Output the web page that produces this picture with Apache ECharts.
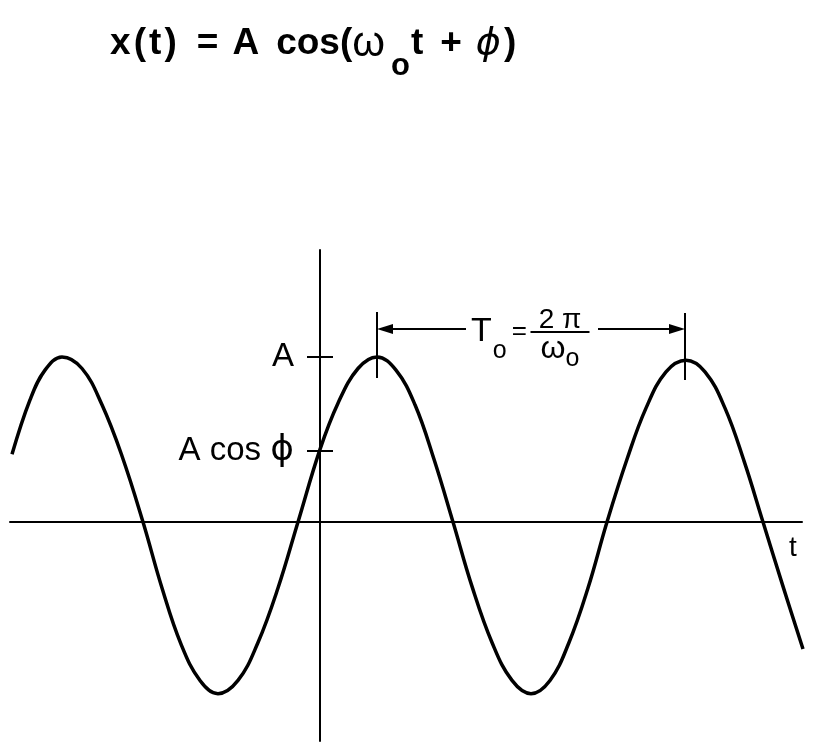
<!DOCTYPE html>
<html><head><meta charset="utf-8">
<script src="https://cdn.jsdelivr.net/npm/echarts@6/dist/echarts.min.js"></script>
<style>html,body{margin:0;padding:0;background:#fff}#c{width:832px;height:746px}</style>
</head><body><div id="c"></div>
<script>
// time axis (arbitrary units, origin at the vertical axis)
const tValues = [-308,-290,-275,-258,-238,-218,-198,-177,-158,-139,-120,-102,-82,-62,-42,-22,0,18,38,57,76,95,114,133,152,172,192,211,230,249,268,287,307,326,346,366,385,405,424,443,463,483];
// x(t) in units of A
const xValues = [0.41,0.74,0.92,1.00,0.93,0.71,0.40,0,-0.40,-0.74,-0.96,-1.04,-0.96,-0.73,-0.40,0,0.44,0.72,0.93,1.00,0.92,0.71,0.38,0,-0.39,-0.73,-0.96,-1.04,-0.96,-0.73,-0.40,0,0.38,0.69,0.91,0.98,0.91,0.69,0.37,0,-0.39,-0.77];
const yTickValues = [1, 0.43];
const yTickLabels = ['A', 'A cos \u03D5'];
const peakTimes = [57, 365];

const F = 'Liberation Sans, Arial, sans-serif';
const chart = echarts.init(document.getElementById('c'), null, {renderer: 'canvas'});

const B = {fontFamily: F, fontWeight: 'bold', fontSize: 37, lineHeight: 40, color: '#000'};
const pad = p => Object.assign({}, B, {padding: [0, 0, 0, p]});
const toRich = s => s.split('\u03D5').map(part => part ? '{a|' + part + '}' : '').join('{f|\u03D5}');
const tickLabelPoints = yTickValues.map((v, i) => ({
  coord: [0, v],
  label: {formatter: toRich(yTickLabels[i]), align: 'right', verticalAlign: 'middle', offset: [-26, 0],
          rich: {
            a: {fontFamily: F, fontSize: 33, lineHeight: 38, color: '#000'},
            f: {fontFamily: 'DejaVu Sans', fontWeight: 'normal', fontSize: 36, lineHeight: 38, color: '#000'}
          }}
}));

const option = {
  backgroundColor: '#fff',
  animation: false,
  title: {
    text: '{b|x\u200A(\u200At\u200A)}{b1|=}{b2|A}{b3|cos(}{w|\u03C9}{s|o}{b4|t}{b5|+}{p|\u03D5}{b6|)}',
    left: 110, top: 24, padding: 0,
    textStyle: { rich: {
      b: B, b1: pad(20), b2: pad(14), b3: pad(17), b4: pad(1), b5: pad(17), b6: pad(3),
      w: {fontFamily: F, fontWeight: 'normal', fontSize: 42, lineHeight: 40, color: '#000'},
      s: {fontFamily: F, fontWeight: 'bold', fontSize: 31, lineHeight: 36, padding: [44, 0, 0, 6], color: '#000'},
      p: {fontFamily: 'DejaVu Sans', fontStyle: 'italic', fontWeight: 'normal', fontSize: 38, lineHeight: 40, padding: [0, 0, 0, 14], color: '#000'}
    }}
  },
  grid: {left: 10, right: 30, top: 250, bottom: 5, containLabel: false, outerBoundsMode: 'none'},
  xAxis: {
    type: 'value', min: -310, max: 482,
    axisLine: {show: true, onZero: true, onZeroAxisIndex: 0, lineStyle: {color: '#000', width: 2}},
    axisTick: {show: false}, axisLabel: {show: false}, splitLine: {show: false},
    name: 't', nameLocation: 'end', nameGap: -9,
    nameTextStyle: {fontSize: 28, fontFamily: F, color: '#000', align: 'center', verticalAlign: 'top', padding: [12, 0, 0, 0]}
  },
  yAxis: [{
    type: 'value', min: -1.327, max: 1.648, position: 'left',
    axisLine: {show: true, onZero: true, onZeroAxisIndex: 0, lineStyle: {color: '#000', width: 2}},
    axisTick: {show: true, inside: false, length: 13, customValues: yTickValues, lineStyle: {color: '#000', width: 2}},
    axisLabel: {show: false},
    splitLine: {show: false}
  }, {
    type: 'value', min: -1.327, max: 1.648, position: 'left',
    axisLine: {show: false, onZero: true, onZeroAxisIndex: 0},
    axisTick: {show: true, inside: true, length: 13, customValues: yTickValues, lineStyle: {color: '#000', width: 2}},
    axisLabel: {show: false}, splitLine: {show: false}
  }],
  series: [{
    type: 'line',
    data: tValues.map((t, i) => [t, xValues[i]]),
    showSymbol: false, symbol: 'none', smooth: 0.4, silent: true, z: 3,
    lineStyle: {color: '#000', width: 3.5},
    markLine: {
      silent: true, symbol: 'none', label: {show: false}, emphasis: {disabled: true},
      lineStyle: {color: '#000', width: 2, type: 'solid'},
      data: [
        [{coord: [peakTimes[0], 0.873]}, {coord: [peakTimes[0], 1.273]}],
        [{coord: [peakTimes[1], 0.861]}, {coord: [peakTimes[1], 1.267]}],
        [{coord: [peakTimes[0] + 8, 1.17], symbol: 'triangle', symbolSize: [10, 16]}, {coord: [146, 1.17]}],
        [{coord: [278, 1.17]}, {coord: [peakTimes[1] - 8, 1.17], symbol: 'triangle', symbolSize: [10, 16]}]
      ]
    },
    markPoint: {
      silent: true, symbol: 'circle', symbolSize: 1, itemStyle: {color: 'rgba(0,0,0,0)'},
      label: {show: true, position: 'inside', color: '#000', rich: {
        T: {fontFamily: F, fontSize: 34, lineHeight: 36, color: '#000'},
        o: {fontFamily: F, fontSize: 25, lineHeight: 14, padding: [38, 0, 0, 1], color: '#000'},
        e: {fontFamily: F, fontSize: 26, lineHeight: 36, padding: [0, 0, 0, 5], color: '#000'},
        n: {fontFamily: F, fontSize: 28, lineHeight: 22, color: '#000'},
        bar: {fontSize: 2, lineHeight: 2, height: 2, width: 59, backgroundColor: '#000'},
        w: {fontFamily: F, fontSize: 32, lineHeight: 33, color: '#000'},
        o2: {fontFamily: F, fontSize: 25, lineHeight: 14, padding: [19, 0, 0, 0], color: '#000'}
      }},
      data: [
        {coord: [151, 1.152], label: {formatter: '{T|T}{o|o}{e|=}', align: 'left'}},
        {coord: [240, 1.118], label: {formatter: '{n|2 \u03C0}\n{bar| }\n{w|\u03C9}{o2|o}', align: 'center'}}
      ].concat(tickLabelPoints)
    }
  }]
};
chart.setOption(option);
</script>
</body></html>
